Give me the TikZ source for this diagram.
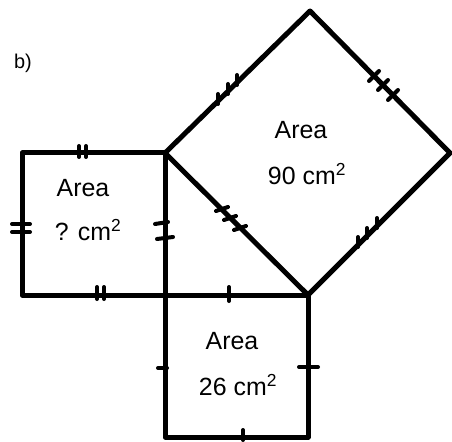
\documentclass[tikz,border=0pt]{standalone}
\usepackage{fontspec}
\setmainfont{Liberation Sans}
\begin{document}
\begin{tikzpicture}[x=1bp,y=-1bp,
  edge/.style={line width=5bp,line join=round,line cap=round},
  tick/.style={line width=4bp,line cap=round},
  lbl/.style={font=\fontsize{25}{27}\selectfont,inner sep=0pt}]
\useasboundingbox (0,0) rectangle (452,442);
% vertices
\coordinate (A) at (165,153);
\coordinate (B) at (165,295);
\coordinate (C) at (308,295);
\coordinate (LT) at (22,153);
\coordinate (LB) at (22,295);
\coordinate (BL) at (165,437);
\coordinate (BR) at (308,437);
\coordinate (T) at (310,11);
\coordinate (R) at (450,153);
% squares
\draw[edge] (A) -- (LT) -- (LB) -- (C);
\draw[edge] (A) -- (BL) -- (BR) -- (C);
\draw[edge] (A) -- (T) -- (R) -- (C) -- cycle;
% ticks: left square
\draw[tick] (79,146) -- (79,157) (86,146) -- (86,157);
\draw[tick] (12,224) -- (30,224) (12,232) -- (30,232);
\draw[tick] (97,287) -- (97,299) (104,287) -- (104,299);
\draw[tick] (155,224) -- (168,222) (157,239) -- (173,237);
% bottom square
\draw[tick] (229,287) -- (229,301);
\draw[tick] (158,368) -- (167,368);
\draw[tick] (299,367) -- (318,367);
\draw[tick] (243,430) -- (243,440);
% hypotenuse
\draw[tick] (216,211) -- (228,207) (224,220) -- (236,216) (234,230) -- (246,226);
% big square
\draw[tick] (218,94) -- (218,104) (228,84) -- (228,94) (237,75) -- (237,85);
\draw[tick] (369,81) -- (379,71) (378,90) -- (388,80) (388,100) -- (398,90);
\draw[tick] (358,237) -- (358,247) (367,228) -- (367,238) (377,218) -- (377,228);
% labels
\node[lbl] (bl) at (23,63) {\fontsize{20}{22}\selectfont b)};
\node[lbl] (a1) at (83,188) {Area};
\node[lbl] (v1) at (88,230) {? cm\textsuperscript{2}};
\node[lbl] (a2) at (301,130) {Area};
\node[lbl] (v2) at (307,174) {90 cm\textsuperscript{2}};
\node[lbl] (a3) at (232,341) {Area};
\node[lbl] (v3) at (238,385) {26 cm\textsuperscript{2}};
\end{tikzpicture}
\end{document}
